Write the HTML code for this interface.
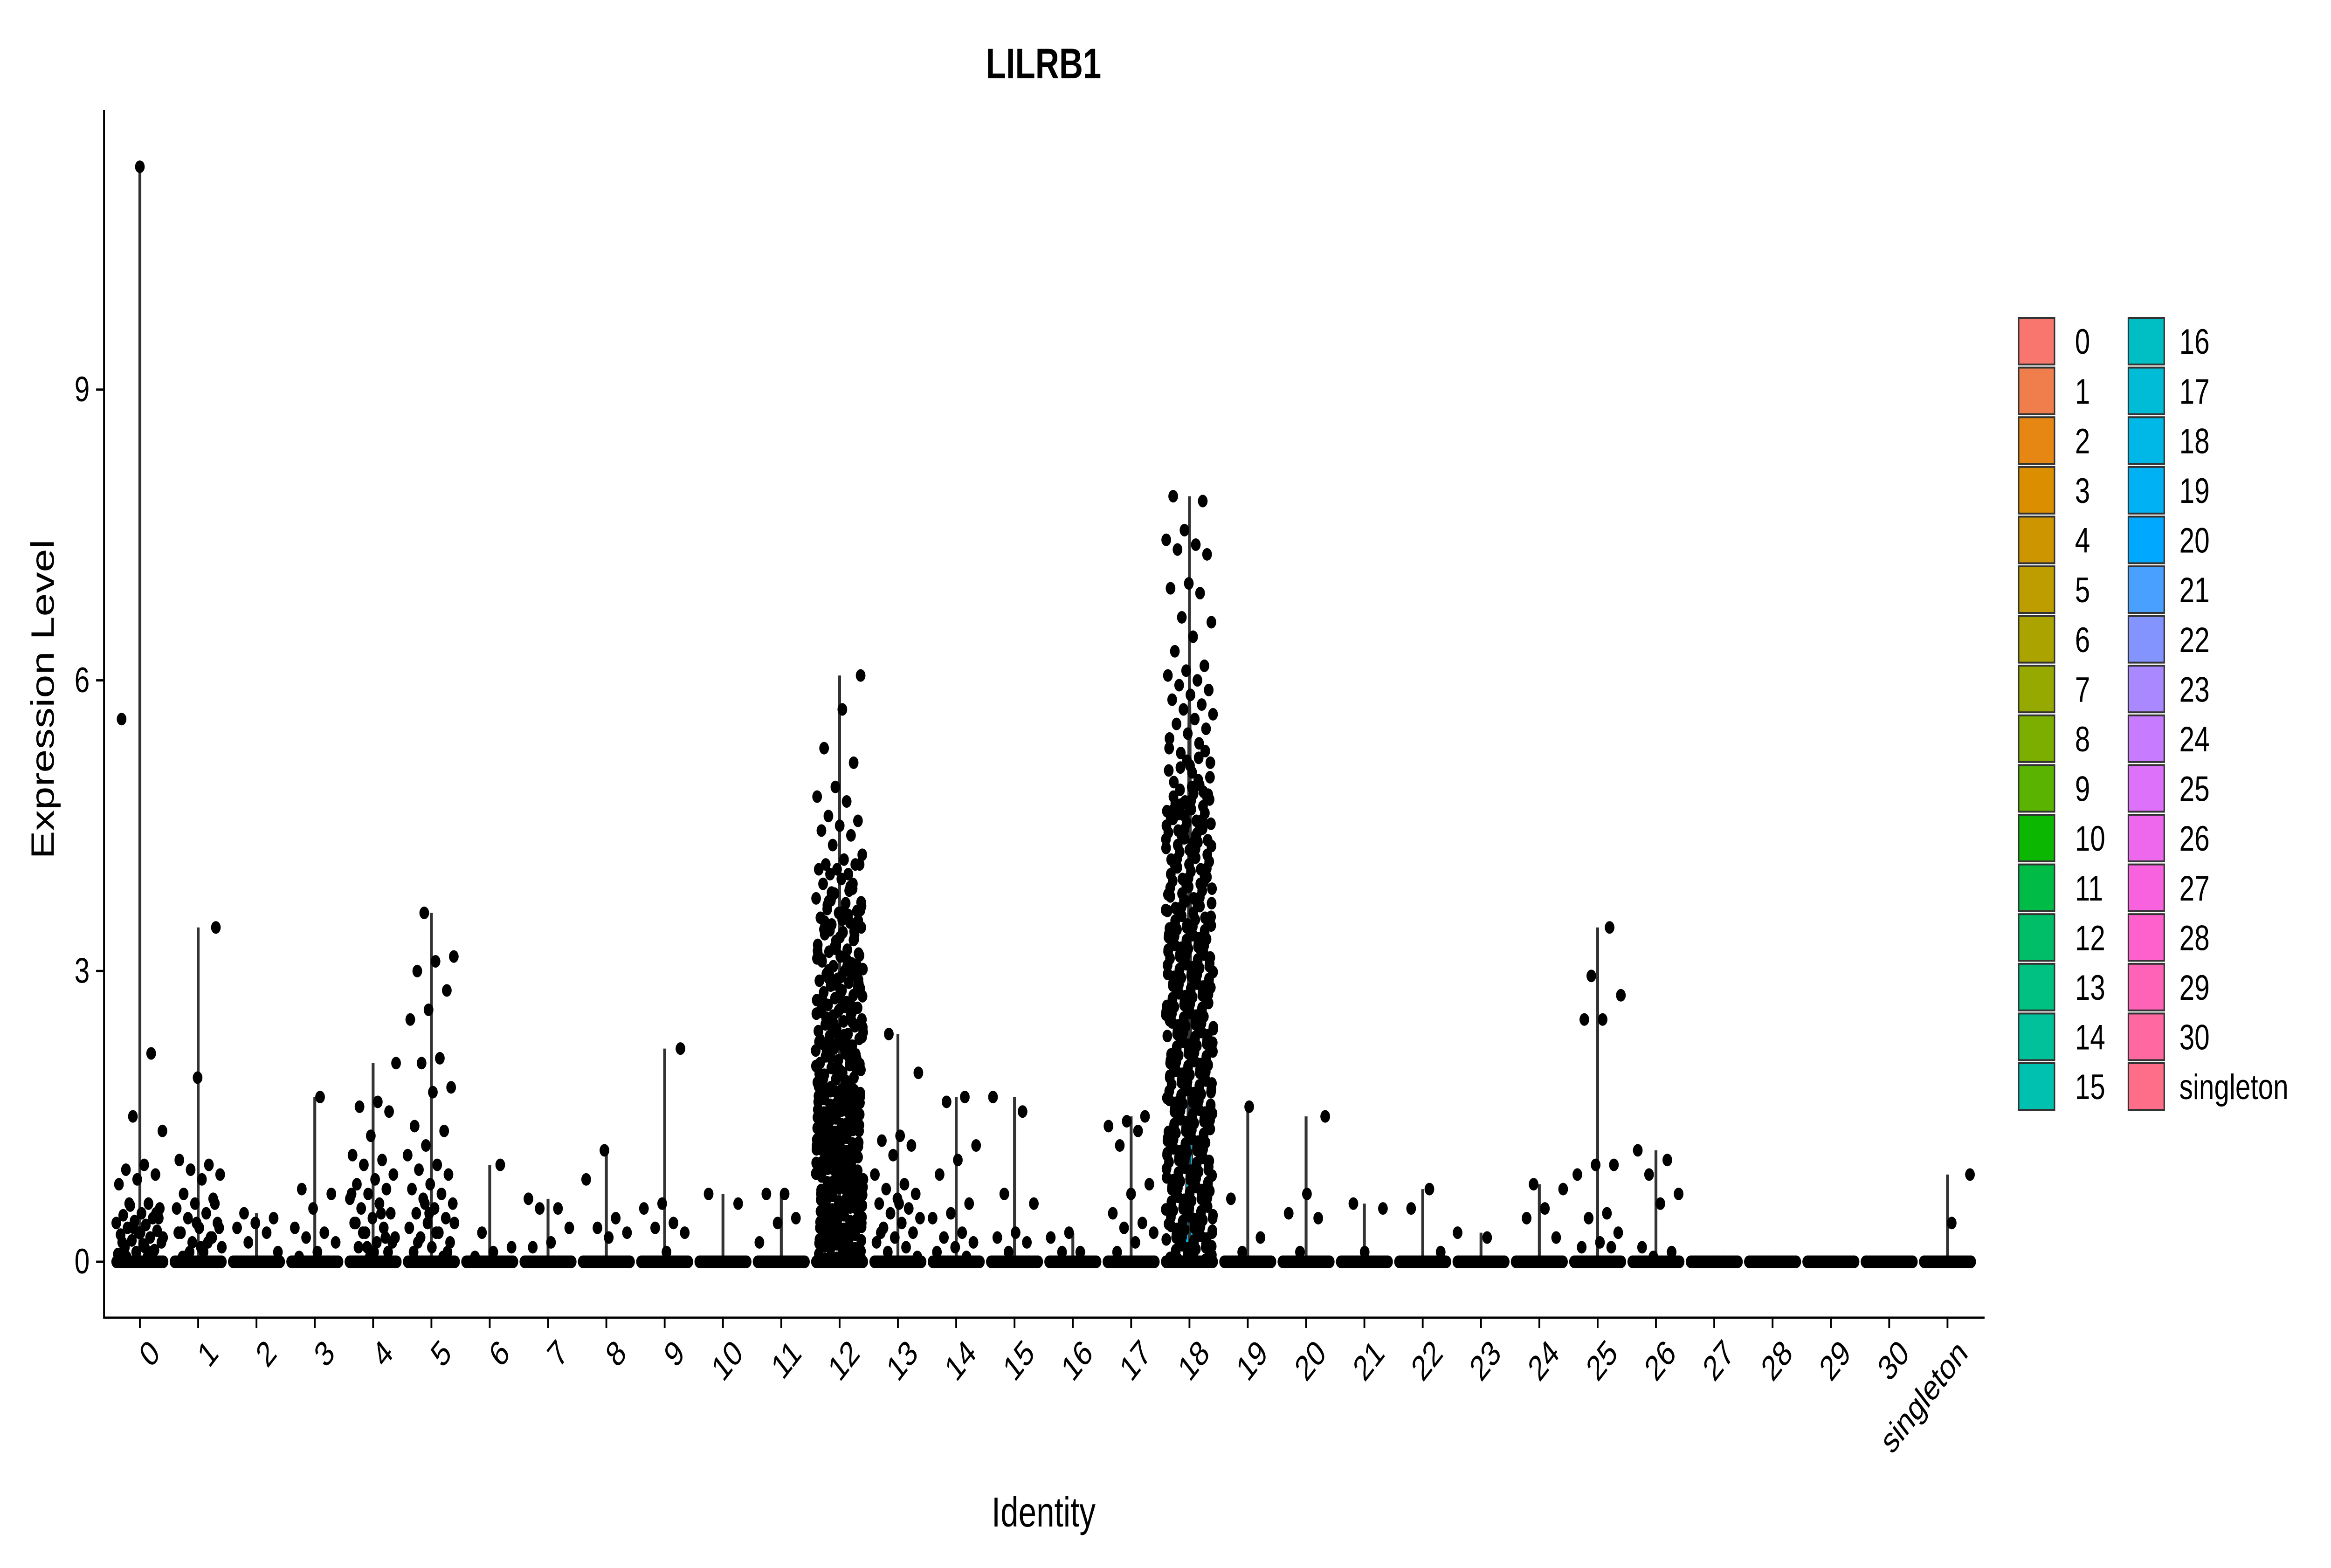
<!DOCTYPE html>
<html><head><meta charset="utf-8"><style>
html,body{margin:0;padding:0;background:#fff;overflow:hidden;width:100%;height:100%;}
svg{display:block;width:100vw;height:100vh;font-family:"Liberation Sans",Arial,sans-serif;}
</style></head><body>
<svg id="chart" viewBox="0 0 6500 3364" preserveAspectRatio="none" xmlns="http://www.w3.org/2000/svg">
<rect width="6500" height="3364" fill="#fff"/>
<text x="2910" y="168" font-size="92" font-weight="bold" text-anchor="middle">LILRB1</text>
<text transform="translate(150,1500) rotate(-90)" font-size="90" text-anchor="middle">Expression Level</text>
<text x="2910" y="3275" font-size="90" text-anchor="middle">Identity</text>
<g id="plot"></g>
<g id="axes"></g>
<g id="legend"></g>
</svg>
<script>
const categories=["0","1","2","3","4","5","6","7","8","9","10","11","12","13","14","15","16","17","18","19","20","21","22","23","24","25","26","27","28","29","30","singleton"];
const yTicks=[0,3,6,9];
const zeroCounts=[40,40,40,40,40,40,40,40,40,40,40,40,40,40,40,40,40,40,40,40,40,40,40,40,40,40,40,40,40,40,40,40];
const v0=[11.3,5.6,2.15,1.5,1.35,1.0,0.95,0.9,0.85,0.8,0.6,0.58,0.55,0.5,0.48,0.45,0.42,0.4,0.38,0.35,0.32,0.3,0.28,0.25,0.22,0.2,0.18,0.15,0.12,0.1,0.08,0.05,0.6,0.45,0.3,0.2,0.1,0.35,0.25,0.15,0.05,0.5];
const v1=[3.45,1.9,1.05,1.0,0.95,0.9,0.85,0.7,0.65,0.6,0.55,0.5,0.45,0.4,0.35,0.3,0.25,0.2,0.15,0.1,0.05,0.6,0.4,0.3,0.2,0.1,0.35,0.15,0.05,0.25];
const v2=[0.5,0.45,0.4,0.35,0.3,0.2,0.1];
const v3=[1.7,0.75,0.7,0.55,0.35,0.3,0.25,0.2,0.1,0.05];
const v4=[2.05,1.65,1.6,1.55,1.3,1.1,1.05,1.0,0.9,0.85,0.8,0.75,0.7,0.65,0.6,0.55,0.5,0.45,0.4,0.35,0.3,0.25,0.2,0.15,0.1,0.05,0.7,0.5,0.3,0.2,0.1,0.4,0.25,0.15];
const v5=[3.6,3.15,3.1,3.0,2.8,2.6,2.5,2.1,2.05,1.8,1.75,1.4,1.35,1.2,1.1,1.0,0.95,0.9,0.8,0.75,0.7,0.65,0.6,0.55,0.5,0.45,0.4,0.35,0.3,0.25,0.2,0.15,0.1,0.05,0.6,0.4,0.3,0.2,0.1,0.5];
const v6=[1.0,0.3,0.15,0.1,0.05];
const v7=[0.65,0.55,0.55,0.35,0.2,0.15];
const v8=[1.15,0.85,0.45,0.35,0.3,0.25];
const v9=[2.2,0.6,0.55,0.4,0.35,0.3,0.1];
const v10=[0.7,0.6];
const v11=[0.7,0.7,0.45,0.4,0.2];
const v12=[6.05,5.7,5.3,5.15,4.9,4.8,4.75,4.6,4.55,4.5,4.45,4.4,4.3,4.2,4.15,4.1,4.1,4.05,4.05,4.0,4.0,4.1,3.95,3.9,
3.85,3.8,3.75,3.7,3.68,3.62,3.6,3.55,3.5,3.48,3.45,3.4,3.38,3.33,3.3,3.27,3.22,3.2,3.18,3.15,3.1,3.08,3.05,3.02,3.0,2.97,2.95,2.92,2.9,2.88,2.85,2.82,2.8,2.78,2.75,2.72,2.7,2.68,2.65,2.62,2.6,2.58,2.55,2.53,2.5,2.48,2.45,2.43,2.4,2.38,2.35,2.33,2.3,2.28,2.25,2.23,2.2,2.18,2.15,2.13,2.1,2.08,2.05,2.03,2.0,1.98,1.95,1.93,1.9,1.88,1.85,1.83,
3.72,3.52,3.35,3.12,2.98,2.86,2.74,2.63,2.52,2.44,2.36,2.27,2.19,2.11,2.04,1.96,1.89,3.9,3.25,2.56,2.31,2.16,2.07,1.99,1.92,
3.87,3.77,3.67,3.57,3.47,3.37,3.27,3.17,3.07,2.96,2.87,2.77,2.66,2.57,2.46,2.37,2.26,2.17,2.06,1.97,1.86,
3.83,3.73,3.63,3.53,3.43,3.32,3.23,3.13,3.03,2.93,2.83,2.73,2.61,2.51,2.41,2.32,2.21,2.12,2.01,1.91,1.81,
3.58,3.42,3.16,2.94,2.69,2.47,2.24,2.02,1.87,3.64,3.06,2.59,2.29,2.09,
3.81,3.71,3.61,3.51,3.41,3.31,3.21,3.11,3.01,2.91,2.81,2.71,2.64,2.54,2.42,2.34,2.22,2.14,2.0,1.94,1.84,
1.8,1.7,1.6,1.5,1.4,1.3,1.2,1.1,1.0,0.9,0.8,0.7,0.6,0.5,0.4,0.3,0.2,0.1,
1.75,1.65,1.55,1.45,1.35,1.25,1.15,1.05,0.95,0.85,0.75,0.65,0.55,0.45,0.35,0.25,0.15,0.05,
1.78,1.68,1.58,1.48,1.38,1.28,1.18,1.08,0.98,0.88,0.78,0.68,0.58,0.48,0.38,0.28,0.18,0.08,
1.72,1.62,1.52,1.42,1.32,1.22,1.12,1.02,0.92,0.82,0.72,0.62,0.52,0.42,0.32,0.22,0.12,0.03,
1.77,1.63,1.57,1.43,1.37,1.23,1.17,1.03,0.97,0.83,0.77,0.63,0.57,0.43,0.37,0.23,0.17,0.06,
1.74,1.66,1.54,1.46,1.34,1.26,1.14,1.06,0.94,0.86,0.74,0.66,0.54,0.46,0.34,0.26,0.14,0.04,
1.71,1.61,1.51,1.41,1.31,1.21,1.11,1.01,0.91,0.81,0.71,0.61,0.51,0.41,0.31,0.21,0.11,0.02,
1.79,1.69,1.59,1.49,1.39,1.29,1.19,1.09,0.99,0.89,0.79,0.69,0.59,0.49,0.39,0.29,0.19,0.09,
1.76,1.64,1.56,1.44,1.36,1.24,1.16,1.04,0.96,0.84,0.76,0.64,0.56,0.44,0.36,0.24,0.16,0.07];
const v13=[2.35,1.95,1.3,1.25,1.2,1.1,0.9,0.8,0.75,0.7,0.65,0.6,0.55,0.5,0.45,0.4,0.35,0.3,0.25,0.2,0.15,0.1,0.05,0.6,0.3];
const v14=[1.7,1.65,1.2,1.05,0.9,0.6,0.5,0.45,0.3,0.25,0.2,0.15,0.1,0.05];
const v15=[1.7,1.55,0.7,0.6,0.3,0.25,0.2,0.1];
const v16=[0.3,0.25,0.1,0.1];
const v17=[1.5,1.45,1.4,1.35,1.2,0.8,0.7,0.5,0.4,0.35,0.3,0.2,0.1];
const v18=[7.9,7.85,7.55,7.45,7.4,7.35,7.3,7.0,6.95,6.9,6.65,6.6,6.45,6.3,6.15,6.1,6.05,6.0,5.95,5.9,5.85,5.8,5.75,5.7,5.65,5.6,5.55,5.5,5.45,5.4,
5.35,5.25,5.15,5.05,4.95,4.85,4.75,4.65,4.55,4.45,4.35,4.25,4.15,4.05,3.95,3.85,3.75,3.65,3.55,3.45,3.35,3.25,3.15,3.05,2.95,2.85,2.75,2.65,2.55,2.45,2.35,2.25,2.15,2.05,1.95,1.85,1.75,1.65,1.55,1.45,1.35,1.25,1.15,1.05,0.95,0.85,0.75,0.65,0.55,0.45,0.35,0.25,0.15,0.05,
5.3,5.2,5.1,5.0,4.9,4.8,4.7,4.6,4.5,4.4,4.3,4.2,4.1,4.0,3.9,3.8,3.7,3.6,3.5,3.4,3.3,3.2,3.1,3.0,2.9,2.8,2.7,2.6,2.5,2.4,2.3,2.2,2.1,2.0,1.9,1.8,1.7,1.6,1.5,1.4,1.3,1.2,1.1,1.0,0.9,0.8,0.7,0.6,0.5,0.4,0.3,0.2,0.1,
5.27,5.17,5.07,4.97,4.87,4.77,4.67,4.57,4.47,4.37,4.27,4.17,4.07,3.97,3.87,3.77,3.67,3.57,3.47,3.37,3.27,3.17,3.07,2.97,2.87,2.77,2.67,2.57,2.47,2.37,2.27,2.17,2.07,1.97,1.87,1.77,1.67,1.57,1.47,1.37,1.27,1.17,1.07,0.97,0.87,0.77,0.67,0.57,0.47,0.37,0.27,0.17,0.07,
4.83,4.73,4.63,4.53,4.43,4.33,4.23,4.13,4.03,3.93,3.83,3.73,3.63,3.53,3.43,3.33,3.23,3.13,3.03,2.93,2.83,2.73,2.63,2.53,2.43,2.33,2.23,2.13,2.03,1.93,1.83,1.73,1.63,1.53,1.43,1.33,1.23,1.13,1.03,0.93,0.83,0.73,0.63,0.53,0.43,0.33,0.23,0.13,0.03,
4.79,4.69,4.59,4.49,4.39,4.29,4.19,4.09,3.99,3.89,3.79,3.69,3.59,3.49,3.39,3.29,3.19,3.09,2.99,2.89,2.79,2.69,2.59,2.49,2.39,2.29,2.19,2.09,1.99,1.89,1.79,1.69,1.59,1.49,1.39,1.29,1.19,1.09,0.99,0.89,0.79,0.69,0.59,0.49,0.39,0.29,0.19,0.09,
4.76,4.66,4.56,4.46,4.36,4.26,4.16,4.06,3.96,3.86,3.76,3.66,3.56,3.46,3.36,3.26,3.16,3.06,2.96,2.86,2.76,2.66,2.56,2.46,2.36,2.26,2.16,2.06,1.96,1.86,1.76,1.66,1.56,1.46,1.36,1.26,1.16,1.06,0.96,0.86,0.76,0.66,0.56,0.46,0.36,0.26,0.16,0.06,
3.52,3.42,3.32,3.22,3.12,3.02,2.92,2.82,2.72,2.62,2.52,2.42,2.32,2.22,2.12,2.02,1.92,1.82,1.72,1.62,1.52,1.42,1.32,1.22,1.12,1.02,0.92,0.82,0.72,0.62,0.52,0.42,0.32,0.22,0.12,0.02,
3.48,3.38,3.28,3.18,3.08,2.98,2.88,2.78,2.68,2.58,2.48,2.38,2.28,2.18,2.08,1.98,1.88,1.78,1.68,1.58,1.48,1.38,1.28,1.18,1.08,0.98,0.88,0.78,0.68,0.58,0.48,0.38,0.28,0.18,0.08,
3.44,3.34,3.24,3.14,3.04,2.94,2.84,2.74,2.64,2.54,2.44,2.34,2.24,2.14,2.04,1.94,1.84,1.74,1.64,1.54,1.44,1.34,1.24,1.14,1.04,0.94,0.84,0.74,0.64,0.54,0.44,0.34,0.24,0.14,0.04,
4.92,4.72,4.52,4.32,4.12,3.92,3.72,3.62,4.42,4.62,4.82,5.12];
const v19=[1.6,0.65,0.25,0.1];
const v20=[1.5,0.7,0.5,0.45,0.1];
const v21=[0.6,0.55,0.1];
const v22=[0.75,0.55,0.1];
const v23=[0.3,0.25];
const v24=[0.8,0.75,0.55,0.45,0.25];
const v25=[3.45,2.95,2.75,2.5,2.5,1.0,1.0,0.9,0.5,0.45,0.3,0.2,0.15,0.15];
const v26=[1.15,1.05,0.9,0.7,0.6,0.15,0.1,0.05];
const v27=[],v28=[],v29=[],v30=[];
const vSingleton=[0.9,0.4];
const seriesValues=[v0,v1,v2,v3,v4,v5,v6,v7,v8,v9,v10,v11,v12,v13,v14,v15,v16,v17,v18,v19,v20,v21,v22,v23,v24,v25,v26,v27,v28,v29,v30,vSingleton];

const NS="http://www.w3.org/2000/svg";
const X0=290,X1=5534,YTOP=236,YAX=2827,BAND=162.6,R=13.5;
const xPos=i=>390+i*BAND;
const yPos=v=>2707-v*207.9;
function hcl(h,c,l){
  const hr=h*Math.PI/180,U=c*Math.cos(hr),V=c*Math.sin(hr);
  const Xn=95.047,Yn=100,Zn=108.883,d=Xn+15*Yn+3*Zn,un=4*Xn/d,vn=9*Yn/d;
  const Y=l>8?Yn*Math.pow((l+16)/116,3):Yn*l/903.3;
  const u=U/(13*l)+un,v=V/(13*l)+vn;
  const X=9*Y*u/(4*v),Z=-X/3-5*Y+3*Y/v;
  const g=t=>{t/=100;t=t<=0.0031308?12.92*t:1.055*Math.pow(t,1/2.4)-0.055;return Math.round(Math.max(0,Math.min(1,t))*255);};
  const r=g(3.240479*X-1.537150*Y-0.498535*Z),gg=g(-0.969256*X+1.875992*Y+0.041556*Z),b=g(0.055648*X-0.204043*Y+1.057311*Z);
  return "rgb("+r+","+gg+","+b+")";
}
const colors=categories.map((c,i)=>hcl(15+i*360/32,100,65));
function mk(tag,attrs,parent){const e=document.createElementNS(NS,tag);for(const k in attrs)e.setAttribute(k,attrs[k]);parent.appendChild(e);return e;}
const plot=document.getElementById("plot"),axes=document.getElementById("axes"),legend=document.getElementById("legend");
const frac=x=>x-Math.floor(x);
categories.forEach((cat,i)=>{
  const g=mk("g",{},plot);
  
  
  const vals=seriesValues[i];
  const cx=xPos(i);
  if(vals.length){
    const mx=Math.max(...vals);
    if(vals.length>400){
      const vl=mk("polygon",{points:[[cx-14,yPos(0)],[cx-6,yPos(mx*0.2)],[cx-4,yPos(mx*0.7)],[cx,yPos(mx*0.85)],[cx+4,yPos(mx*0.7)],[cx+6,yPos(mx*0.2)],[cx+14,yPos(0)]].map(p=>p.join(",")).join(" "),fill:colors[i],stroke:"#333","stroke-width":3},g);
      
      
    }
    const ln=mk("line",{x1:cx,x2:cx,y1:yPos(0),y2:yPos(mx),stroke:"#333","stroke-width":8},g);
    
    
  }
  for(let k=0;k<zeroCounts[i];k++){
    const p=mk("ellipse",{cx:cx-66+132*k/(zeroCounts[i]-1),cy:yPos(0),rx:R,ry:R,fill:"#000"},g);
    
    
  }
  vals.forEach((v,k)=>{
    const off=(frac(k*0.618034+0.5+i*0.37)-0.5)*2*0.41*BAND;
    const p=mk("ellipse",{cx:cx+off,cy:yPos(v),rx:R,ry:R,fill:"#000"},g);
    
    
  });
  const t=mk("line",{x1:cx,x2:cx,y1:YAX,y2:YAX+22,stroke:"#000","stroke-width":5},axes);
  
  
  const lb=mk("text",{transform:"translate("+(cx+22)+","+(YAX+42)+") rotate(-45)","text-anchor":"end","dominant-baseline":"hanging","font-size":76},axes);
  lb.textContent=cat;
  
  
  const col=i<16?0:1,row=i%16;
  const kx=col?5935:5629,ky=682+row*106.6;
  const key=mk("rect",{x:kx,y:ky,width:100,height:100,fill:colors[i],stroke:"#333","stroke-width":4},legend);
  
  
  const lt=mk("text",{x:col?6077:5786,y:ky+52,"dominant-baseline":"central","font-size":76},legend);
  lt.textContent=cat;
  
  
});
const ya=mk("line",{x1:X0,x2:X0,y1:YTOP,y2:YAX+2,stroke:"#000","stroke-width":5},axes);


const xa=mk("line",{x1:X0-2,x2:X1,y1:YAX,y2:YAX,stroke:"#000","stroke-width":5},axes);


yTicks.forEach(v=>{
  const t=mk("line",{x1:X0-22,x2:X0,y1:yPos(v),y2:yPos(v),stroke:"#000","stroke-width":5},axes);
  
  
  const l=mk("text",{x:X0-40,y:yPos(v),"text-anchor":"end","dominant-baseline":"central","font-size":76},axes);
  l.textContent=v;
  
  
});
</script>
</body></html>
